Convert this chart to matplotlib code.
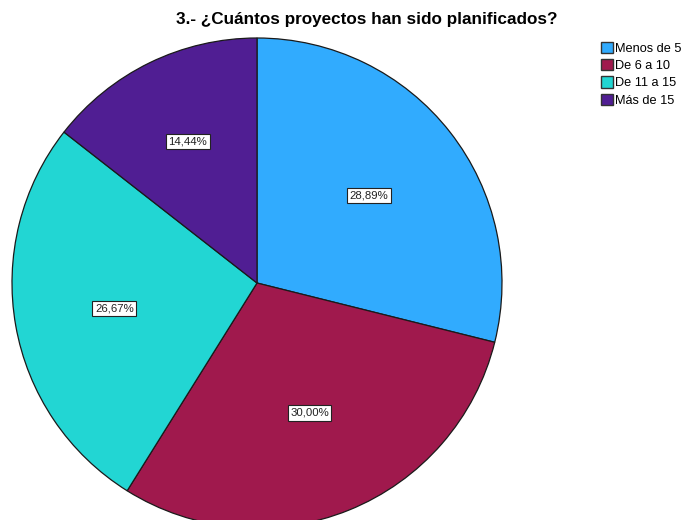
import numpy as np
import matplotlib
matplotlib.use('Agg')
import matplotlib.pyplot as plt

plt.rcParams['font.family'] = ['Liberation Sans', 'DejaVu Sans']

title = '3.- ¿Cuántos proyectos han sido planificados?'
categories = ['Menos de 5', 'De 6 a 10', 'De 11 a 15', 'Más de 15']
percentages = [28.89, 30.00, 26.67, 14.44]
colors = ['#31abfe', '#a0194d', '#22d6d3', '#501e93']


def main():
    fig = plt.figure(figsize=(6.84, 5.2), dpi=100)
    ax = fig.add_axes([0, 0, 1, 1])

    # pie is laid out in pixel units; the lower edge runs past the figure
    cx, cy, r = 257., 237., 245.
    wedges, _ = ax.pie(percentages, colors=colors, startangle=90,
                       counterclock=False, center=(cx, cy), radius=r,
                       wedgeprops={'edgecolor': '#1a1a1a', 'linewidth': 0.9})

    # percentage labels at each sector's centroid
    for w, p in zip(wedges, percentages):
        half = np.deg2rad(w.theta2 - w.theta1) / 2.
        mid = np.deg2rad(w.theta1 + w.theta2) / 2.
        d = 2. / 3. * r * np.sin(half) / half
        ax.text(cx + d * np.cos(mid), cy + d * np.sin(mid),
                '{:.2f}%'.format(p).replace('.', ','),
                ha='center', va='center', fontsize=8.2, color='#222222',
                bbox=dict(boxstyle='square,pad=0.22', facecolor='white',
                          edgecolor='#222222', linewidth=0.8))

    ax.set_xlim(0, 684)
    ax.set_ylim(0, 520)
    ax.set_aspect('equal')
    ax.axis('off')

    fig.text(0.536, 0.962, title, ha='center', va='center',
             fontsize=12.3, fontweight='bold')

    leg = fig.legend(wedges, categories, loc='upper left',
                     bbox_to_anchor=(0.869, 0.932), frameon=False,
                     fontsize=9.2, handlelength=0.95, handleheight=0.95,
                     handletextpad=0.15, labelspacing=0.35, borderpad=0.)
    for h in leg.legend_handles:
        h.set_edgecolor('#333333')
        h.set_linewidth(1.0)

    fig.savefig('out.png', dpi=100)


if __name__ == '__main__':
    main()
